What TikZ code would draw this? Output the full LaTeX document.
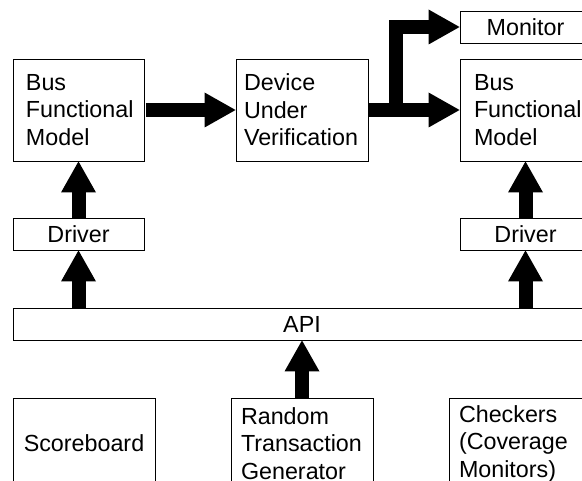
\documentclass[tikz,border=0pt]{standalone}
\usepackage{fontspec}
\setmainfont{Liberation Sans}
\usetikzlibrary{arrows.meta,calc}
\begin{document}
\begin{tikzpicture}[x=1pt,y=-1pt,
  box/.style={draw, line width=0.9pt, rectangle, inner ysep=0pt,
    font=\fontsize{23.3}{27.5}\selectfont},
  blockarrow/.style={line width=14pt, line join=miter,
    -{Triangle[width=35pt,length=31pt,line width=0pt]}}]
\useasboundingbox (0,0) rectangle (582,481);
\clip (0,0) rectangle (582,481);
% top row
\node[box, align=left, inner xsep=13pt, text width=105pt, minimum height=102pt] (bfml) at (78.5,110) {Bus\\Functional\\Model};
\node[box, align=left, inner xsep=8pt, text width=116pt, minimum height=102pt] (duv) at (302,110) {Device\\Under\\Verification};
\node[box, align=left, inner xsep=14pt, text width=103pt, minimum height=102pt] (bfmr) at (525.5,110) {Bus\\Functional\\Model};
\node[box, align=center, inner xsep=0pt, text width=131pt, minimum height=32pt] (mon) at (525.5,27) {Monitor};
% drivers
\node[box, align=center, inner xsep=0pt, text width=131pt, minimum height=32pt] (drvl) at (78.5,234) {Driver};
\node[box, align=center, inner xsep=0pt, text width=131pt, minimum height=32pt] (drvr) at (525.5,234) {Driver};
% API
\node[box, align=center, inner xsep=0pt, text width=578pt, minimum height=32pt] (api) at (302,324) {API};
% bottom row
\node[box, align=center, inner xsep=0pt, text width=142pt, minimum height=91pt] (score) at (84,443.5) {Scoreboard};
\node[box, align=left, inner xsep=10pt, text width=122pt, minimum height=91pt] (rtg) at (302,443.5) {Random\\Transaction\\Generator};
\node[box, align=left, inner xsep=10pt, text width=122pt, minimum height=91pt] (chk) at (520,443.5) {Checkers\\(Coverage\\Monitors)};
% connectors
\draw[blockarrow, shorten <=1.5pt] (bfml.east) -- (duv.west);
\coordinate (br) at ($(duv.east)+(27.5,0)$);
\draw[blockarrow] (duv.east) -- (bfmr.west);
\draw[blockarrow] (br) |- (mon.west);
\draw[blockarrow] (drvl.north) -- (bfml.south);
\draw[blockarrow] (drvr.north) -- (bfmr.south);
\draw[blockarrow] (drvl.south |- api.north) -- (drvl.south);
\draw[blockarrow] (drvr.south |- api.north) -- (drvr.south);
\draw[blockarrow] (rtg.north) -- (rtg.north |- api.south);
\end{tikzpicture}
\end{document}
